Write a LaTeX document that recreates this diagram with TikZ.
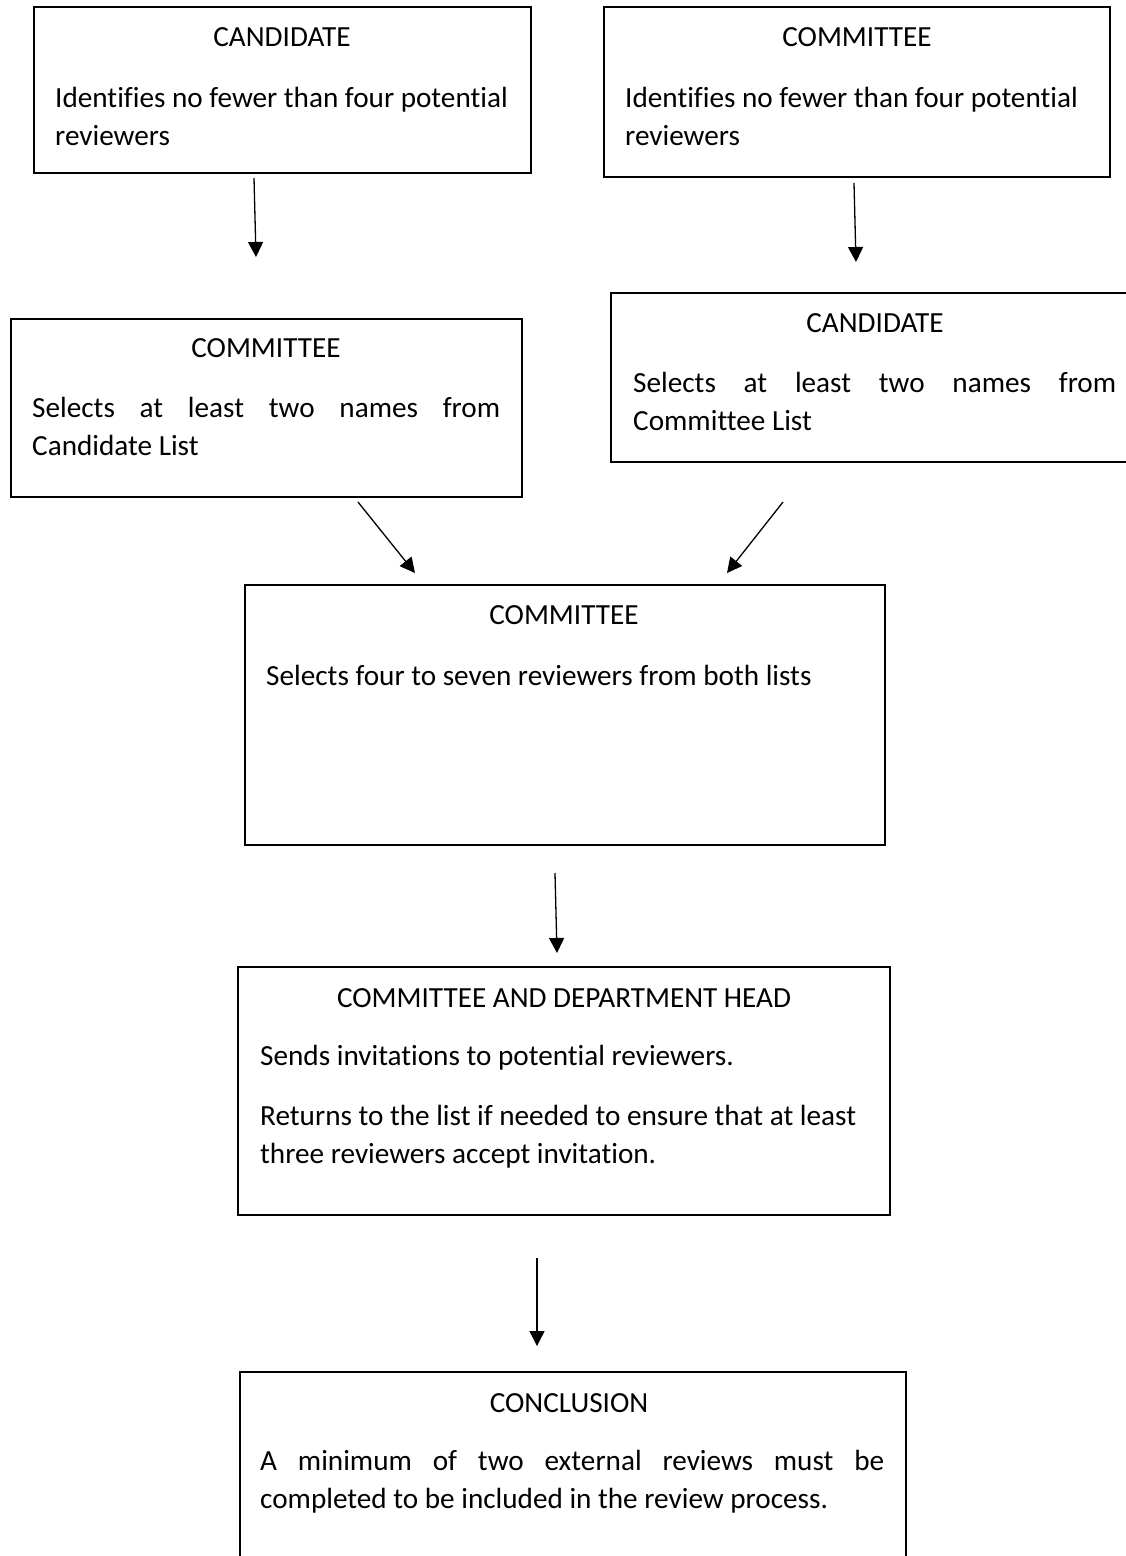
\documentclass[tikz,border=0pt]{standalone}
\usepackage{fontspec}
\setmainfont{Carlito}[Ligatures=NoCommon]
\usetikzlibrary{arrows.meta}
\newcommand{\boxat}[5]{% name, x1, y1, x2, y2
  \pgfmathsetmacro{\bw}{#4-#2}\pgfmathsetmacro{\bh}{#5-#3}%
  \node[flowbox, minimum width=\bw pt, minimum height=\bh pt, anchor=north west] (#1) at (#2,#3) {};}
\begin{document}
\begin{tikzpicture}[x=1pt,y=-1pt,
  flowbox/.style={draw, line width=1.6pt, inner sep=0pt, outer sep=0pt},
  ttl/.style={anchor=base, inner sep=0pt, font=\fontsize{29.2}{38}\selectfont},
  txt/.style={anchor=base west, inner sep=0pt, font=\fontsize{29.2}{38}\selectfont},
  arr/.style={line width=1.3pt, -{Triangle[length=15pt,width=15pt]}}]
\useasboundingbox (0,0) rectangle (1126,1556);
\fill[white] (0,0) rectangle (1126,1556);

% boxes
\boxat{b1}{34}{7}{531}{173}
\boxat{b2}{604}{7}{1110}{177}
\boxat{b3}{11}{319}{522}{497}
\boxat{b4}{611}{293}{1145}{462}
\boxat{b5}{245}{585}{885}{845}
\boxat{b6}{238}{967}{890}{1215}
\boxat{b7}{240}{1372}{906}{1580}

% texts
\node[ttl] (t1) at (282,46) {CANDIDATE};
\node[txt] (t1a) at (55,107) {Identifies no fewer than four potential};
\node[txt] (t1b) at (55,145) {reviewers};

\node[ttl] (t2) at (857,46) {COMMITTEE};
\node[txt] (t2a) at (625,107) {Identifies no fewer than four potential};
\node[txt] (t2b) at (625,145) {reviewers};

\node[ttl] (t3) at (266,357) {COMMITTEE};
\node[txt] (t3a) at (32,417) {\makebox[468pt][s]{Selects at least two names from}};
\node[txt] (t3b) at (32,455) {Candidate List};

\node[ttl] (t4) at (875,332) {CANDIDATE};
\node[txt] (t4a) at (633,392) {\makebox[483pt][s]{Selects at least two names from}};
\node[txt] (t4b) at (633,430) {Committee List};

\node[ttl] (t5) at (564,624) {COMMITTEE};
\node[txt] (t5a) at (266,685) {Selects four to seven reviewers from both lists};

\node[ttl] (t6) at (564,1007) {COMMITTEE AND DEPARTMENT HEAD};
\node[txt] (t6a) at (260,1065) {Sends invitations to potential reviewers.};
\node[txt] (t6b) at (260,1125) {Returns to the list if needed to ensure that at least};
\node[txt] (t6c) at (260,1163) {three reviewers accept invitation.};

\node[ttl] (t7) at (569,1412) {CONCLUSION};
\node[txt] (t7a) at (260,1470) {\makebox[624pt][s]{A minimum of two external reviews must be}};
\node[txt] (t7b) at (260,1508) {completed to be included in the review process.};

% connectors
\coordinate (a1s) at (254,178); \coordinate (a1e) at (256,257);
\coordinate (a2s) at (854,183); \coordinate (a2e) at (856,262);
\coordinate (a3s) at (358,502); \coordinate (a3e) at (415,573);
\coordinate (a4s) at (783,502); \coordinate (a4e) at (727,573);
\coordinate (a5s) at (555,873); \coordinate (a5e) at (557,953);
\coordinate (a6s) at (537,1258); \coordinate (a6e) at (537,1346);
\draw[arr] (a1s) -- (a1e);
\draw[arr] (a2s) -- (a2e);
\draw[arr] (a3s) -- (a3e);
\draw[arr] (a4s) -- (a4e);
\draw[arr] (a5s) -- (a5e);
\draw[arr] (a6s) -- (a6e);
\end{tikzpicture}
\end{document}
